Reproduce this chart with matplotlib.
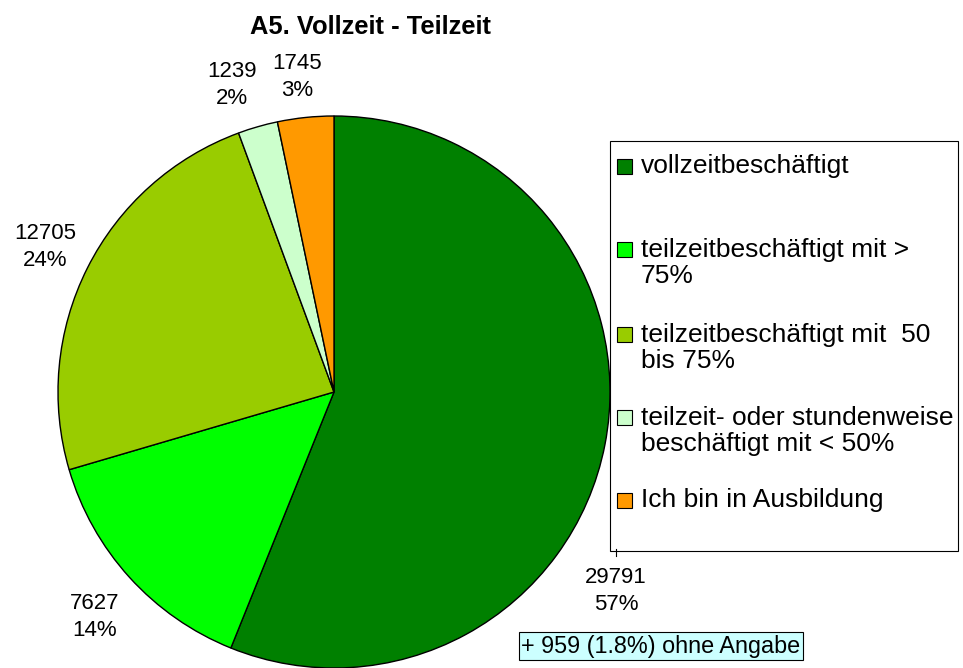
import matplotlib.pyplot as plt
from matplotlib.patches import Rectangle

plt.rcParams['font.family'] = ['Liberation Sans', 'DejaVu Sans']

categories = ['vollzeitbeschäftigt',
              'teilzeitbeschäftigt mit >\n75%',
              'teilzeitbeschäftigt mit  50\nbis 75%',
              'teilzeit- oder stundenweise\nbeschäftigt mit < 50%',
              'Ich bin in Ausbildung']
counts = [29791, 7627, 12705, 1239, 1745]
percents = [57, 14, 24, 2, 3]
colors = ['#008000', '#00ff00', '#99cc00', '#ccffcc', '#ff9900']
title = 'A5. Vollzeit - Teilzeit'
note = '+ 959 (1.8%) ohne Angabe'

W, H = 963, 668
fig = plt.figure(figsize=(W / 100, H / 100), dpi=100)
ax = fig.add_axes([0, 0, 1, 1])

def Y(y):
    return H - y

# legend box (pie drawn over its left edge)
ax.add_patch(Rectangle((610, Y(551)), 348, 410, facecolor='white',
                       edgecolor='black', lw=0.8, zorder=1))

wedges, _ = ax.pie(counts, colors=colors, startangle=90, counterclock=False,
                   center=(334, Y(392)), radius=276, frame=True,
                   wedgeprops=dict(edgecolor='black', linewidth=1, zorder=2))
ax.set_xlim(0, W)
ax.set_ylim(0, H)
ax.set_aspect('equal')
ax.axis('off')

# data labels
label_pos = [(616, 591), (95, 617), (45, 247), (232, 85), (297, 77)]
for (x, y), c, p in zip(label_pos, counts, percents):
    ax.text(x, Y(y), f'{c}\n{p}%', ha='center', va='center', fontsize=16,
            linespacing=1.42, zorder=3)
ax.plot([616, 616], [Y(549), Y(556)], color='black', lw=0.8, zorder=3)

# legend entries
entry_y = [166, 263, 348, 431, 500]
for (lab, col, y) in zip(categories, colors, entry_y):
    n = lab.count('\n')
    top = y - n * 13.5
    ax.add_patch(Rectangle((617, Y(top + 7.5)), 15, 15, facecolor=col,
                           edgecolor='black', lw=0.8, zorder=3))
    ax.text(641, Y(y), lab, ha='left', va='center', fontsize=19,
            linespacing=1.08, zorder=3)

ax.text(370, Y(27), title, ha='center', va='center', fontsize=18.4,
        fontweight='bold')

ax.text(661, Y(646), note, ha='center', va='center', fontsize=16.8,
        bbox=dict(boxstyle='square,pad=0.1', facecolor='#ccffff',
                  edgecolor='black', lw=0.8), zorder=3)

fig.savefig('out.png', dpi=100)
